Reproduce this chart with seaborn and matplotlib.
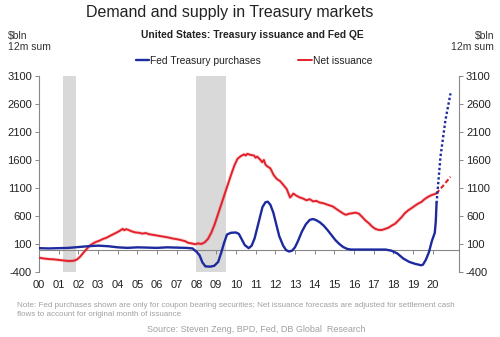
import matplotlib
matplotlib.use("Agg")
import matplotlib.pyplot as plt
import seaborn as sns
import pandas as pd

# ---------------- data ----------------
red_x = [2000.00, 2000.25, 2000.50, 2000.75, 2001.00, 2001.25, 2001.50, 2001.75, 2001.92,
         2002.08, 2002.25, 2002.42, 2002.58, 2002.75, 2002.92, 2003.08, 2003.25, 2003.42,
         2003.58, 2003.75, 2003.92, 2004.08, 2004.25, 2004.33, 2004.42, 2004.58, 2004.75,
         2004.92, 2005.08, 2005.25, 2005.42, 2005.58, 2005.75, 2005.92, 2006.08, 2006.25,
         2006.42, 2006.58, 2006.75, 2006.92, 2007.08, 2007.25, 2007.42, 2007.58, 2007.75,
         2007.92, 2008.08, 2008.25, 2008.42, 2008.58, 2008.75, 2008.92, 2009.08, 2009.25,
         2009.42, 2009.58, 2009.75, 2009.92, 2010.08, 2010.25, 2010.42, 2010.50, 2010.58,
         2010.75, 2010.92, 2011.00, 2011.08, 2011.25, 2011.33, 2011.42, 2011.50, 2011.58,
         2011.75, 2011.92, 2012.08, 2012.25, 2012.42, 2012.58, 2012.75, 2012.83, 2012.92,
         2013.08, 2013.25, 2013.42, 2013.58, 2013.75, 2013.92, 2014.08, 2014.25, 2014.42,
         2014.58, 2014.75, 2014.92, 2015.08, 2015.25, 2015.42, 2015.58, 2015.75, 2015.92,
         2016.08, 2016.25, 2016.42, 2016.58, 2016.75, 2016.92, 2017.08, 2017.25, 2017.42,
         2017.58, 2017.75, 2017.92, 2018.08, 2018.25, 2018.42, 2018.58, 2018.75, 2018.92,
         2019.08, 2019.25, 2019.42, 2019.58, 2019.75, 2019.92, 2020.08, 2020.17]
red_y = [-145, -160, -170, -175, -185, -195, -205, -200, -180,
         -130, -60, 10, 70, 110, 140, 160, 190, 210,
         240, 270, 300, 330, 370, 345, 365, 345, 320,
         305, 300, 285, 295, 275, 265, 255, 245, 235,
         225, 215, 200, 190, 180, 165, 150, 120, 110,
         95, 110, 100, 130, 190, 300, 450, 620, 800,
         980, 1150, 1330, 1500, 1620, 1670, 1700, 1680, 1710,
         1690, 1680, 1640, 1660, 1600, 1560, 1600, 1520, 1490,
         1450, 1330, 1260, 1220, 1150, 1080, 930, 960, 1000,
         960, 930, 910, 880, 900, 860, 870, 840, 830,
         810, 790, 770, 730, 690, 650, 620, 640, 650,
         660, 640, 580, 520, 470, 410, 370, 350, 350,
         370, 390, 430, 460, 520, 580, 650, 700, 740,
         780, 820, 850, 900, 940, 970, 990, 1000]

red_fc_x = [2020.17, 2020.50, 2020.90]
red_fc_y = [1000, 1130, 1300]

blue_x = [2000.0, 2000.5, 2001.0, 2001.5, 2002.0, 2002.5, 2003.0, 2003.5, 2004.0, 2004.5,
          2005.0, 2005.5, 2006.0, 2006.5, 2007.0, 2007.5, 2007.8, 2008.0, 2008.15, 2008.3,
          2008.45, 2008.7, 2008.9, 2009.1, 2009.25, 2009.4, 2009.55, 2009.75, 2010.0, 2010.15,
          2010.3, 2010.45, 2010.65, 2010.8, 2010.95, 2011.15, 2011.35, 2011.5, 2011.62, 2011.75,
          2011.9, 2012.05, 2012.2, 2012.4, 2012.55, 2012.7, 2012.85, 2013.0, 2013.15, 2013.35,
          2013.55, 2013.75, 2013.9, 2014.05, 2014.25, 2014.45, 2014.65, 2014.85, 2015.05, 2015.25,
          2015.45, 2015.65, 2015.85, 2016.5, 2017.0, 2017.6, 2017.9, 2018.2, 2018.5, 2018.8,
          2019.1, 2019.4, 2019.5, 2019.65, 2019.8, 2019.95, 2020.1, 2020.15, 2020.19]
blue_y = [25, 20, 25, 30, 45, 60, 70, 60, 40, 30,
          40, 35, 30, 40, 35, 30, 20, -40, -100, -230,
          -300, -305, -290, -220, -60, 120, 270, 300, 305, 280,
          180, 80, 25, 70, 200, 480, 760, 845, 855, 800,
          660, 450, 240, 70, -10, -35, -20, 40, 150, 320,
          450, 530, 545, 530, 490, 430, 350, 260, 170, 100,
          45, 12, 0, 0, 0, 0, -20, -70, -160, -220,
          -255, -280, -270, -180, -50, 150, 300, 500, 830]

blue_fc_x = [2020.19, 2020.39, 2020.64, 2020.90]
blue_fc_y = [830, 1660, 2310, 2790]

recessions = [(2001.2, 2001.9), (2007.95, 2009.5)]
year_ticks = list(range(2000, 2021))
year_labels = [f"{y % 100:02d}" for y in year_ticks]
y_ticks = [-400, 100, 600, 1100, 1600, 2100, 2600, 3100]

BLUE = "#1c2a9e"
RED = "#e3212b"
GRAY_TXT = "#a0a0a0"

# ---------------- figure ----------------
sns.set_theme(style="white")
plt.rcParams["font.family"] = ["Liberation Sans", "DejaVu Sans"]

fig = plt.figure(figsize=(5.0, 3.37), dpi=100)
ax = fig.add_axes([0.078, 0.193, 0.840, 0.5815])

for a, b in recessions:
    ax.axvspan(a, b, color="#d9d9d9", lw=0, zorder=0)

df_red = pd.DataFrame({"x": red_x, "y": red_y})
df_blue = pd.DataFrame({"x": blue_x, "y": blue_y})
sns.lineplot(data=df_blue, x="x", y="y", ax=ax, color=BLUE, lw=1.7,
             label="Fed Treasury purchases", zorder=4)
sns.lineplot(data=df_red, x="x", y="y", ax=ax, color=RED, lw=1.4,
             label="Net issuance", zorder=3)
ax.plot(red_x, red_y, color=RED, lw=2.6, alpha=0.18, zorder=2)
ax.plot(red_fc_x, red_fc_y, color=RED, lw=1.5, ls=(0, (2.2, 1.2)), zorder=3)
ax.plot(blue_fc_x, blue_fc_y, color=BLUE, lw=1.7, ls=(0, (1.0, 1.0)), zorder=4)

ax.set_xlim(2000, 2021.33)
ax.set_ylim(-400, 3100)
ax.set_xlabel("")
ax.set_ylabel("")

ax.spines["top"].set_visible(False)
for s in ["left", "right"]:
    ax.spines[s].set_color("#888888")
    ax.spines[s].set_linewidth(0.8)
ax.spines["bottom"].set_position(("data", 0))
ax.spines["bottom"].set_color("#888888")
ax.spines["bottom"].set_linewidth(0.8)

ax.set_xticks(year_ticks)
ax.tick_params(axis="x", which="both", bottom=True, direction="out", length=3,
               width=0.7, color="#888888", labelbottom=False)
ax.set_yticks(y_ticks)
ax.set_yticklabels([str(v) for v in y_ticks])
ax.tick_params(axis="y", left=True, right=True, labelleft=True, labelright=True,
               direction="out", length=3, width=0.7, color="#888888",
               labelsize=8, labelcolor="#222222", pad=2)

sec = ax.secondary_xaxis("bottom")
sec.set_xticks(year_ticks)
sec.set_xticklabels(year_labels)
sec.tick_params(length=0, labelsize=8, labelcolor="#222222", pad=6)
sec.spines["bottom"].set_visible(False)

leg = ax.legend(loc="lower center", bbox_to_anchor=(0.512, 1.03), ncol=2, frameon=False,
                fontsize=7.4, handlelength=1.3, handletextpad=0.1, columnspacing=3.6,
                borderaxespad=0)
for t in leg.get_texts():
    t.set_color("#222222")

fig.text(0.46, 0.962, "Demand and supply in Treasury markets", ha="center", va="center",
         fontsize=11.5, color="#222222")
fig.text(0.505, 0.896, "United States: Treasury issuance and Fed QE", ha="center",
         va="center", fontsize=7.4, fontweight="bold", color="#222222")
fig.text(0.016, 0.878, "\\$bln\n12m sum", ha="left", va="center", fontsize=7.5,
         color="#333333", linespacing=1.1)
fig.text(0.988, 0.878, "\\$bln\n12m sum", ha="right", va="center", fontsize=7.5,
         color="#333333", linespacing=1.1, multialignment="right")
fig.text(0.034, 0.08, "Note: Fed purchases shown are only for coupon bearing securities; Net issuance "
         "forecasts are adjusted for settlement cash\nflows to account for original month of issuance",
         ha="left", va="center", fontsize=5.75, color=GRAY_TXT, linespacing=1.3)
fig.text(0.512, 0.021, "Source: Steven Zeng, BPD, Fed, DB Global  Research", ha="center",
         va="center", fontsize=6.5, color=GRAY_TXT)

fig.savefig("out.png", dpi=100)
